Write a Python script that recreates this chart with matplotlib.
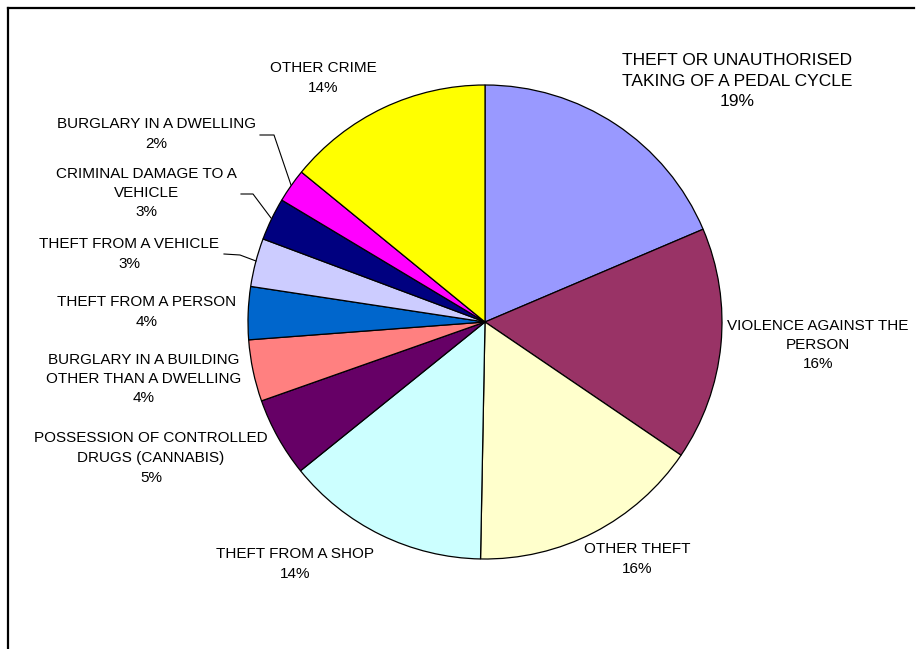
import matplotlib
matplotlib.use("Agg")
import matplotlib.pyplot as plt
from matplotlib.lines import Line2D

categories = [
    "THEFT OR UNAUTHORISED\nTAKING OF A PEDAL CYCLE",
    "VIOLENCE AGAINST THE\nPERSON",
    "OTHER THEFT",
    "THEFT FROM A SHOP",
    "POSSESSION OF CONTROLLED\nDRUGS (CANNABIS)",
    "BURGLARY IN A BUILDING\nOTHER THAN A DWELLING",
    "THEFT FROM A PERSON",
    "THEFT FROM A VEHICLE",
    "CRIMINAL DAMAGE TO A\nVEHICLE",
    "BURGLARY IN A DWELLING",
    "OTHER CRIME",
]
values = [18.6, 15.9, 15.8, 13.9, 5.4, 4.2, 3.6, 3.3, 2.9, 2.3, 14.1]
colors = ["#9999FF", "#993366", "#FFFFCC", "#CCFFFF", "#660066", "#FF8080",
          "#0066CC", "#CCCCFF", "#000080", "#FF00FF", "#FFFF00"]

W, H = 919, 649
CX, CY, R = 485, 322, 237

def px(x, y):
    return ((x - CX) / R, (CY - y) / R)

fig = plt.figure(figsize=(W / 100, H / 100), dpi=100)
ax = fig.add_axes([0, 0, 1, 1])
ax.axis("off")

wedges, _ = ax.pie(values, colors=colors, startangle=90, counterclock=False,
                   radius=1.0, center=(0, 0),
                   wedgeprops=dict(edgecolor="black", linewidth=0.9))
ax.set_aspect("auto")
ax.set_xlim(-CX / R, (W - CX) / R)
ax.set_ylim((CY - H) / R, CY / R)

# label centres in pixels (layout)
label_pos = [(737, 81), (818, 345), (637, 559), (295, 564), (151, 458),
             (144, 379), (147, 312), (129, 254), (146, 193), (156, 134),
             (323, 78)]
total = sum(values)
font = "Liberation Sans"
for i, (cat, v) in enumerate(zip(categories, values)):
    pct = round(v / total * 100)
    x, y = px(*label_pos[i])
    fs = 12.5 if i == 0 else 11
    ax.text(x, y, f"{cat}\n{pct}%", ha="center", va="center", fontsize=fs,
            family=font, linespacing=1.5 if i else 1.45, color="black")

# leader lines (pixel layout)
leaders = [
    [(260, 135), (274, 135), (291, 185)],
    [(241, 194), (253, 194), (271, 218)],
    [(224, 254), (240, 255), (256, 261)],
]
for pts in leaders:
    xs, ys = zip(*[px(*p) for p in pts])
    ax.plot(xs, ys, color="black", linewidth=0.8)

# frame (only top and left edges visible)
fig.add_artist(Line2D([8 / W, 914 / W], [1 - 8 / H, 1 - 8 / H],
                      transform=fig.transFigure, color="black", linewidth=1.6))
fig.add_artist(Line2D([8 / W, 8 / W], [1 - 8 / H, 0],
                      transform=fig.transFigure, color="black", linewidth=1.6))

fig.savefig("out.png", dpi=100)
